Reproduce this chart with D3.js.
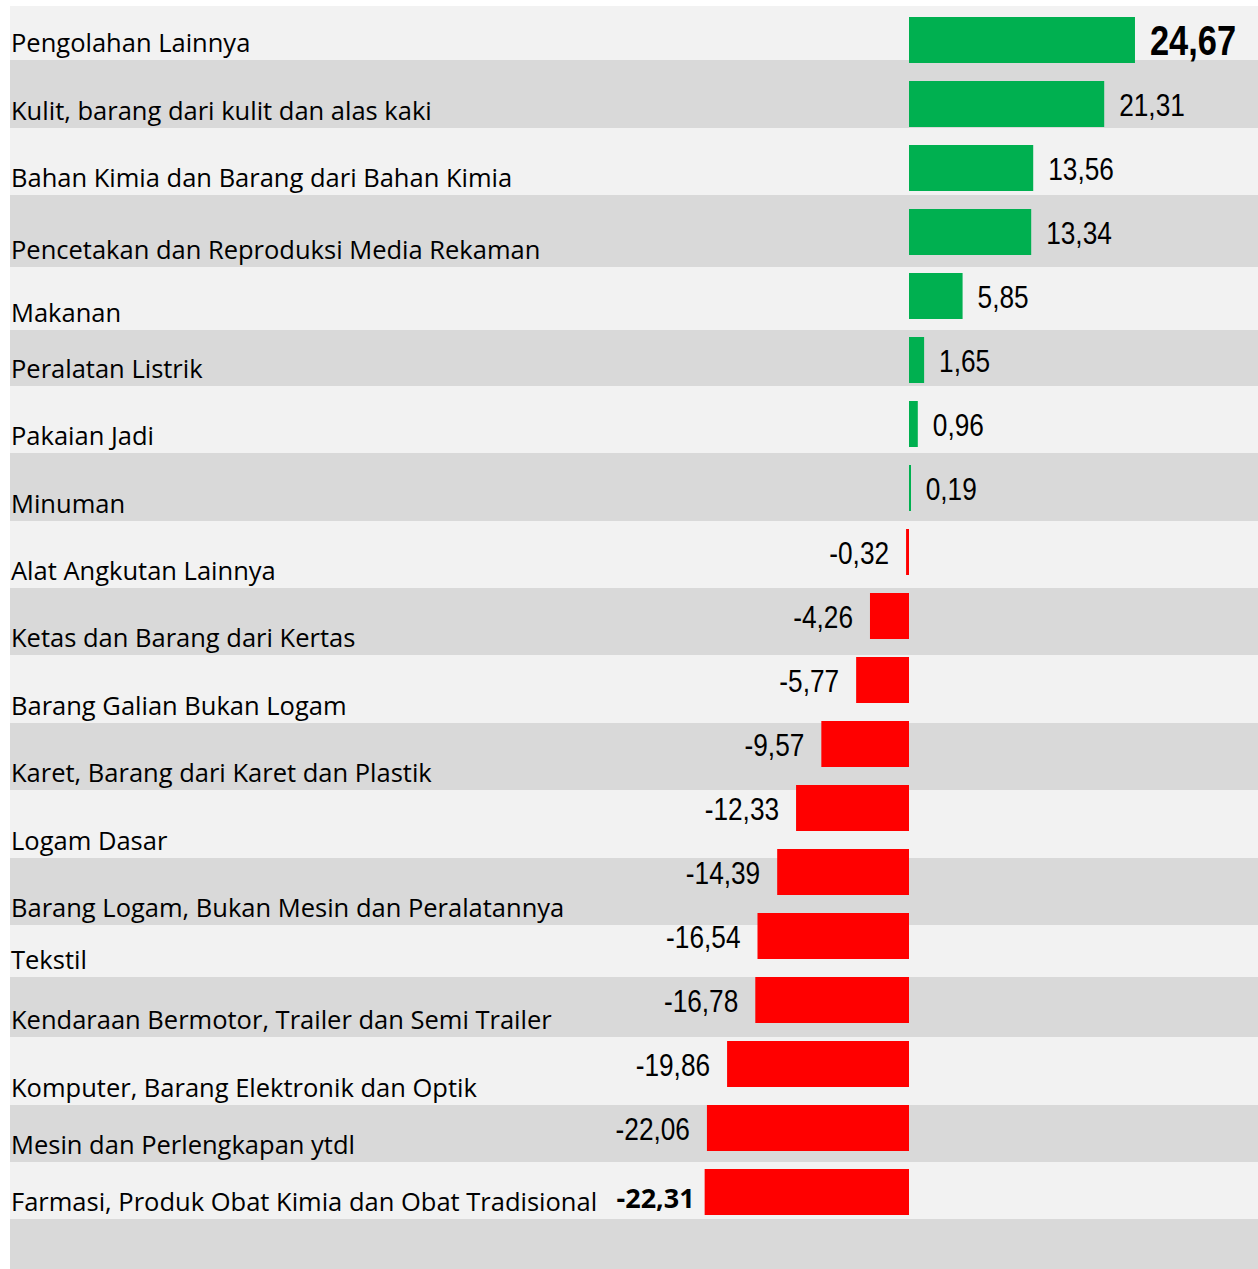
<!doctype html>
<html>
<head>
  <meta charset="utf-8">
  <title>Pertumbuhan Industri</title>
  <script src="https://cdnjs.cloudflare.com/ajax/libs/d3/7.8.5/d3.min.js"></script>
  <style>
    html, body { margin: 0; padding: 0; background: #fff; }
    .cat { font-family: "Open Sans", sans-serif; font-size: 25.5px; fill: #000; }
    .val { font-family: "Liberation Sans", Arial, sans-serif; font-size: 32px; fill: #000; }
  </style>
</head>
<body>
  <div id="chart"></div>
  <script>
    // categories, top to bottom
    const categories = [
      "Pengolahan Lainnya",
      "Kulit, barang dari kulit dan alas kaki",
      "Bahan Kimia dan Barang dari Bahan Kimia",
      "Pencetakan dan Reproduksi Media Rekaman",
      "Makanan",
      "Peralatan Listrik",
      "Pakaian Jadi",
      "Minuman",
      "Alat Angkutan Lainnya",
      "Ketas dan Barang dari Kertas",
      "Barang Galian Bukan Logam",
      "Karet, Barang dari Karet dan Plastik",
      "Logam Dasar",
      "Barang Logam, Bukan Mesin dan Peralatannya",
      "Tekstil",
      "Kendaraan Bermotor, Trailer dan Semi Trailer",
      "Komputer, Barang Elektronik dan Optik",
      "Mesin dan Perlengkapan ytdl",
      "Farmasi, Produk Obat Kimia dan Obat Tradisional"
    ];
    const values = [24.67, 21.31, 13.56, 13.34, 5.85, 1.65, 0.96, 0.19, -0.32, -4.26,
                    -5.77, -9.57, -12.33, -14.39, -16.54, -16.78, -19.86, -22.06, -22.31];

    // edges of the striped background rows (layout only, one more row than categories)
    const bandEdges = [6, 60, 128, 195, 267, 330, 386, 453, 521, 588, 655, 723, 790,
                       858, 925, 977, 1037, 1105, 1162, 1219, 1269];

    const W = 1258, H = 1269;
    const data = categories.map((c, i) => ({ cat: c, v: values[i] }));
    // comma decimals, plain hyphen for the minus
    const fmt = v => d3.format(".2f")(v).replace(".", ",").replace("\u2212", "-");

    const svg = d3.select("#chart").append("svg")
      .attr("width", W)
      .attr("height", H);

    // background stripes
    svg.selectAll("rect.band")
      .data(d3.pairs(bandEdges))
      .join("rect")
      .attr("class", "band")
      .attr("x", 10)
      .attr("y", d => d[0])
      .attr("width", W - 10)
      .attr("height", d => d[1] - d[0])
      .style("fill", (d, i) => i % 2 ? "#d9d9d9" : "#f2f2f2");

    const x = d3.scaleLinear().domain([-25, 25]).range([909 - 229, 909 + 229]);
    const y = d3.scaleBand().domain(categories).range([17, 1215]).paddingInner(18 / 64).paddingOuter(0);

    // bars
    svg.selectAll("rect.bar")
      .data(data)
      .join("rect")
      .attr("class", "bar")
      .attr("x", d => x(Math.min(0, d.v)))
      .attr("y", d => y(d.cat))
      .attr("width", d => Math.max(2, Math.abs(x(d.v) - x(0))))
      .attr("height", y.bandwidth())
      .style("fill", d => d.v >= 0 ? "#00b050" : "#ff0000");

    // category labels, sitting on the bottom of their stripe
    svg.selectAll("text.cat")
      .data(data)
      .join("text")
      .attr("class", "cat")
      .attr("x", 11)
      .attr("y", (d, i) => bandEdges[i + 1] - 8)
      .text(d => d.cat);

    const vmax = d3.max(values), vmin = d3.min(values);

    // value labels (narrowed, like Arial Narrow)
    svg.selectAll("text.val")
      .data(data)
      .join("text")
      .attr("class", "val")
      .attr("transform", d => {
        const tx = d.v >= 0 ? x(d.v) + 15 : x(d.v) - (d.v === vmin ? 10 : 17);
        const ty = y(d.cat) + y.bandwidth() / 2 + (d.v === vmax ? 15 : d.v === vmin ? 16 : 12);
        return `translate(${tx},${ty}) scale(${d.v === vmin ? 1 : 0.82},1)`;
      })
      .attr("text-anchor", d => d.v >= 0 ? "start" : "end")
      .style("font-weight", d => (d.v === vmax || d.v === vmin) ? "bold" : null)
      .style("font-size", d => d.v === vmax ? "42px" : d.v === vmin ? "27px" : null)
      .style("font-family", d => d.v === vmin ? "'Open Sans', sans-serif" : null)
      .text(d => fmt(d.v));
  </script>
</body>
</html>
